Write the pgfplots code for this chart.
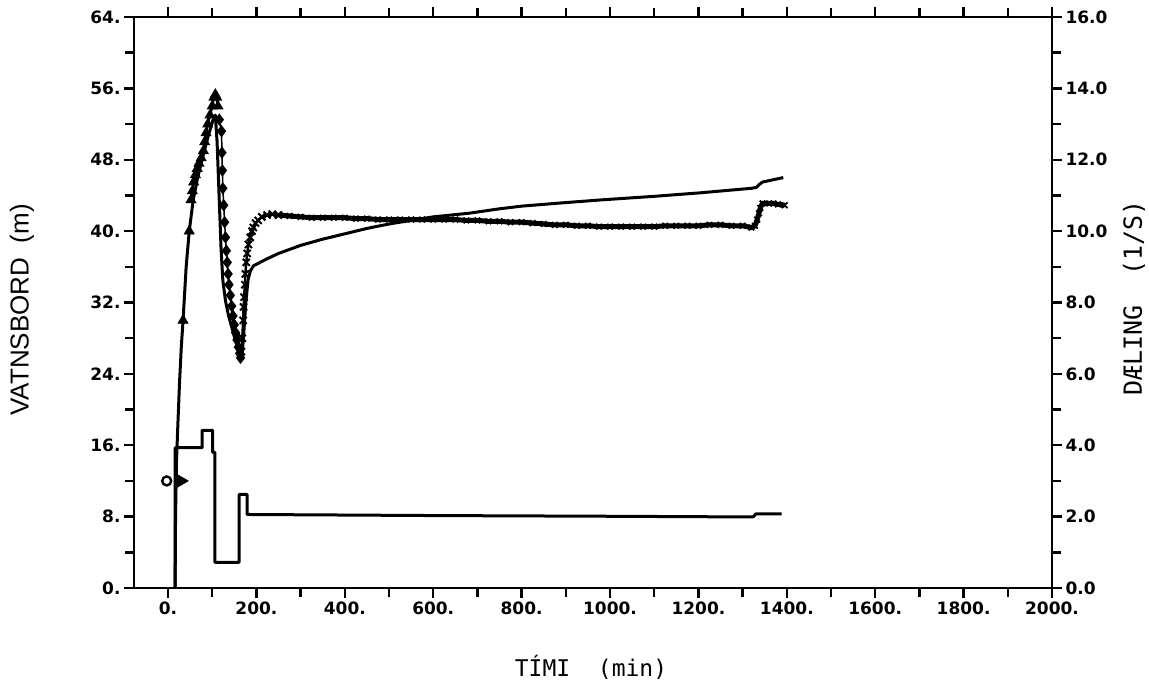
\documentclass[border=0pt]{standalone}
\usepackage{pgfplots}
\pgfplotsset{compat=1.18}
\usepackage{fontspec}
\setmainfont{DejaVu Sans}
\newfontfamily\labelfont{Liberation Sans}
\newfontfamily\monofont{DejaVu Sans Mono}

\pgfplotsset{
  frame/.style={
    at={(0,0)}, anchor=south west,
    scale only axis, width=918pt, height=571pt,
    xmin=-77, xmax=2000,
    axis line style={line width=2.6pt},
    tick align=outside,
    major tick length=10pt, minor tick length=9pt,
    major tick style={line width=2.4pt, black},
    minor tick style={line width=2.4pt, black},
    tick label style={font=\fontsize{17}{17}\selectfont\bfseries},
    clip=false,
  }
}

\begin{document}
\begin{tikzpicture}[x=1pt,y=1pt]
\useasboundingbox (-134,-102) rectangle (1015,588);

% water level (left axis, m)
\begin{axis}[frame,
  ymin=0, ymax=64,
  xtick={0,200,...,2000},
  xticklabels={0.,200.,400.,600.,800.,1000.,1200.,1400.,1600.,1800.,2000.},
  minor xtick={100,300,...,1900},
  xtick pos=both, xticklabel pos=bottom,
  ytick={0,8,...,64},
  yticklabels={0.,8.,16.,24.,32.,40.,48.,56.,64.},
  minor ytick={4,12,...,60},
  ytick pos=left,
]
% computed level
\addplot[line width=3pt, no marks, line join=round] coordinates {
  (16,0) (17,8) (19,14) (22,18) (26,23) (30,27) (34,30) (41,36) (48,40)
  (57,43.5) (67,46) (77,48) (90,50.5) (102,52.5) (107,53)
  (111,50) (114,46) (117,42) (120,38) (124,34.5) (130,32.2) (137,30.5)
  (145,29.1) (152,27.8) (158,26.9) (163,26.2) (167,25.7)
  (172,29) (176,32) (181,34.5) (186,35.5) (193,36.1)
  (220,36.8) (250,37.5) (300,38.4) (350,39.1) (400,39.7) (450,40.3)
  (500,40.8) (550,41.2) (600,41.6) (680,42.0) (750,42.5) (800,42.8)
  (900,43.2) (980,43.5) (1100,43.9) (1206,44.3) (1320,44.8) (1331,44.9)
  (1337,45.2) (1345,45.5) (1392,46.0)
};
\addplot[only marks, mark=triangle*, mark size=6pt] coordinates {(34,30) (48,40)};
% observed level
\addplot[only marks, mark=o, mark size=4.5pt, mark options={line width=2.4pt}] coordinates {(-3,12)};
\addplot[only marks, mark=triangle*, mark size=9pt,
  mark options={rotate=270, fill=black, draw=black}] coordinates {(26,12)};
\addplot[line width=2.5pt, mark=triangle*, mark size=4pt] coordinates {
  (52,43.5) (55,44.5) (58,45.5) (62,46.3) (66,47) (70,47.6) (75,48.2)
  (80,49) (83,50) (86,51) (90,52) (95,53) (100,54) (104,55) (107,55.3)
  (110,55) (113,54)
};
\addplot[line width=1.5pt, mark=diamond*, mark size=5pt] coordinates {
  (116,52.5) (121,51.2) (122,48.8) (123,46.8) (124,44.8) (126,42.9)
  (128,41.0) (130,39.3) (132,37.8) (134,36.5) (136,35.2) (138,34.0)
  (141,32.8) (144,31.6) (147,30.5) (150,29.5) (153,28.6) (156,27.8)
  (159,27.0) (162,26.3) (164,25.8)
};
\addplot[line width=2.5pt, mark=x, mark size=5pt, mark options={line width=2pt}] coordinates {
  (166,26.5) (168,28) (170,30) (171,31.5) (172,32.6) (174,34) (175,35.2)
  (177,36.5) (179,37.5) (182,38.5) (186,39.3) (190,40) (193,40.4)
  (198,40.9) (204,41.2) (212,41.6) (224,41.8) (236,41.9) (250,41.8)
};
\addplot[line width=5pt, mark=x, mark size=4pt, mark options={line width=1.8pt}] coordinates {
  (250,41.8) (275,41.7) (300,41.6) (325,41.5) (350,41.5) (375,41.5) (400,41.5)
  (425,41.4) (450,41.4) (475,41.3) (500,41.3) (525,41.3) (550,41.3)
  (575,41.3) (600,41.3) (625,41.3) (650,41.3) (675,41.2) (700,41.2)
  (725,41.1) (750,41.1) (775,41.0) (800,41.0) (825,40.9) (850,40.8)
  (875,40.7) (900,40.7) (925,40.6) (950,40.6) (975,40.5) (1000,40.5)
  (1025,40.5) (1050,40.5) (1075,40.5) (1100,40.5) (1125,40.6) (1150,40.6)
  (1175,40.6) (1200,40.6) (1225,40.7) (1250,40.7) (1275,40.6) (1300,40.6)
  (1320,40.4) (1328,40.6) (1333,41.3) (1337,42.0) (1340,42.6) (1345,43.1)
  (1360,43.1) (1370,43.1) (1380,43.0) (1395,42.9)
};
\end{axis}

% discharge (right axis, l/s)
\begin{axis}[frame,
  ymin=0, ymax=16,
  axis x line=none, axis y line*=right,
  ytick={0,2,...,16},
  yticklabels={0.0,2.0,4.0,6.0,8.0,10.0,12.0,14.0,16.0},
  minor ytick={1,3,...,15},
  yticklabel style={anchor=west},
]
\addplot[line width=3pt, no marks, line join=round] coordinates {
  (16,0) (16,3.93) (77,3.93) (77,4.42) (101,4.42) (101,3.8) (106,3.8)
  (106,0.72) (161,0.72) (161,2.62) (179,2.62) (179,2.06) (600,2.03)
  (1000,2.01) (1324,1.99) (1330,2.08) (1388,2.08)
};
\end{axis}

\node[rotate=90, font=\labelfont\fontsize{26}{26}\selectfont] at (-112,278) {VATNSBORD\ \ (m)};
\node[font=\monofont\fontsize{23}{23}\selectfont] at (457,-79) {TÍMI\ \ (min)};
\node[rotate=90, font=\monofont\fontsize{25}{25}\selectfont] at (1000,290) {DÆLING\ \ (1/S)};
\end{tikzpicture}
\end{document}
